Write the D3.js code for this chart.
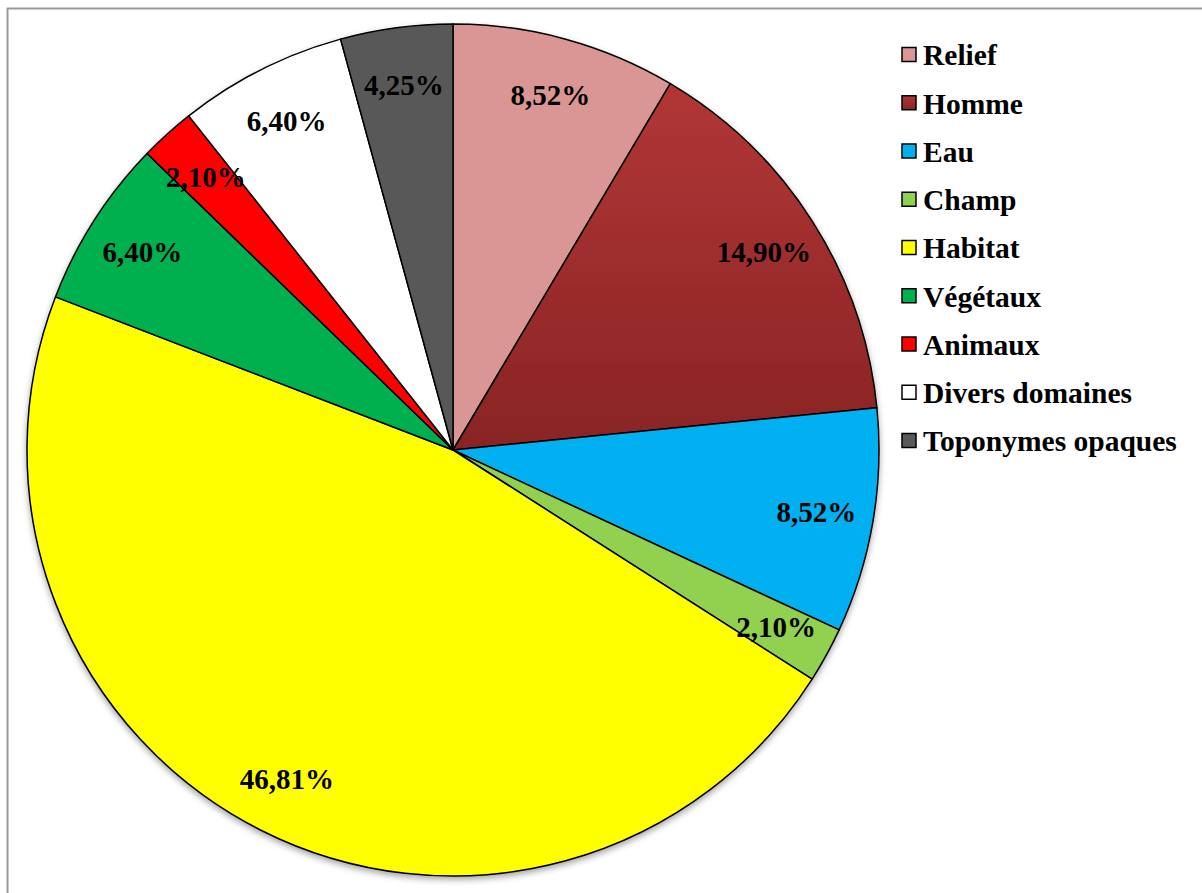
<!DOCTYPE html>
<html>
<head>
<meta charset="utf-8">
<script src="https://cdn.jsdelivr.net/npm/d3@7"></script>
<style>
  html, body { margin: 0; padding: 0; background: #fff; }
  svg { display: block; }
</style>
</head>
<body>
<svg id="chart" width="1202" height="893"></svg>
<script>
const categories = ["Relief", "Homme", "Eau", "Champ", "Habitat", "Végétaux", "Animaux", "Divers domaines", "Toponymes opaques"];
const values = [8.52, 14.90, 8.52, 2.10, 46.81, 6.40, 2.10, 6.40, 4.25];
const labels = ["8,52%", "14,90%", "8,52%", "2,10%", "46,81%", "6,40%", "2,10%", "6,40%", "4,25%"];
const colors = ["#d99694", "url(#hommeGrad)", "#00b0f0", "#92d050", "#ffff00", "#00b050", "#ff0000", "#ffffff", "#595959"];

const data = categories.map((c, i) => ({ name: c, value: values[i], label: labels[i], color: colors[i] }));

const svg = d3.select("#chart");
const defs = svg.append("defs");
const grad = defs.append("linearGradient").attr("id", "hommeGrad")
  .attr("x1", 0).attr("y1", 0).attr("x2", 0).attr("y2", 1);
grad.append("stop").attr("offset", "0%").attr("stop-color", "#b23636");
grad.append("stop").attr("offset", "100%").attr("stop-color", "#892424");

const shadow = defs.append("filter").attr("id", "shadow")
  .attr("x", "-10%").attr("y", "-10%").attr("width", "120%").attr("height", "120%");
shadow.append("feDropShadow").attr("dx", 0).attr("dy", 3).attr("stdDeviation", 3)
  .attr("flood-color", "#000").attr("flood-opacity", 0.35);

// outer frame
svg.append("rect").attr("x", 7.5).attr("y", 8.5).attr("width", 1300).attr("height", 1000)
  .attr("fill", "none").attr("stroke", "#9a9a9a").attr("stroke-width", 2);

const cx = 453, cy = 450, R = 426;
const pie = d3.pie().value(d => d.value).sort(null).startAngle(0).endAngle(2 * Math.PI);
const arc = d3.arc().innerRadius(0).outerRadius(R);
const labelArc = d3.arc().innerRadius(R * 0.865).outerRadius(R * 0.865);

const g = svg.append("g").attr("transform", `translate(${cx},${cy})`);
const arcs = pie(data);

g.append("g").attr("filter", "url(#shadow)")
  .selectAll("path").data(arcs).join("path")
  .attr("d", arc)
  .attr("fill", d => d.data.color)
  .attr("stroke", "#000")
  .attr("stroke-width", 1.5)
  .attr("stroke-linejoin", "round");

g.selectAll("text.lbl").data(arcs).join("text")
  .attr("class", "lbl")
  .attr("transform", d => `translate(${labelArc.centroid(d)})`)
  .attr("text-anchor", "middle")
  .attr("dy", "0.35em")
  .attr("font-family", "'Liberation Serif', 'Times New Roman', serif")
  .attr("font-weight", "bold")
  .attr("font-size", 29)
  .attr("fill", "#000")
  .text(d => d.data.label);

// legend
const legendY = d3.scalePoint().domain(categories).range([55, 441]);
const lg = svg.append("g");
const items = lg.selectAll("g").data(data).join("g")
  .attr("transform", d => `translate(902,${legendY(d.name)})`);
items.append("rect").attr("x", 0).attr("y", -7.5).attr("width", 14).attr("height", 14)
  .attr("fill", d => d.color).attr("stroke", "#000").attr("stroke-width", 1.5);
items.append("text").attr("x", 21).attr("dy", "0.35em")
  .attr("font-family", "'Liberation Serif', 'Times New Roman', serif")
  .attr("font-weight", "bold")
  .attr("font-size", 29.5)
  .attr("fill", "#000")
  .text(d => d.name);
</script>
</body>
</html>
